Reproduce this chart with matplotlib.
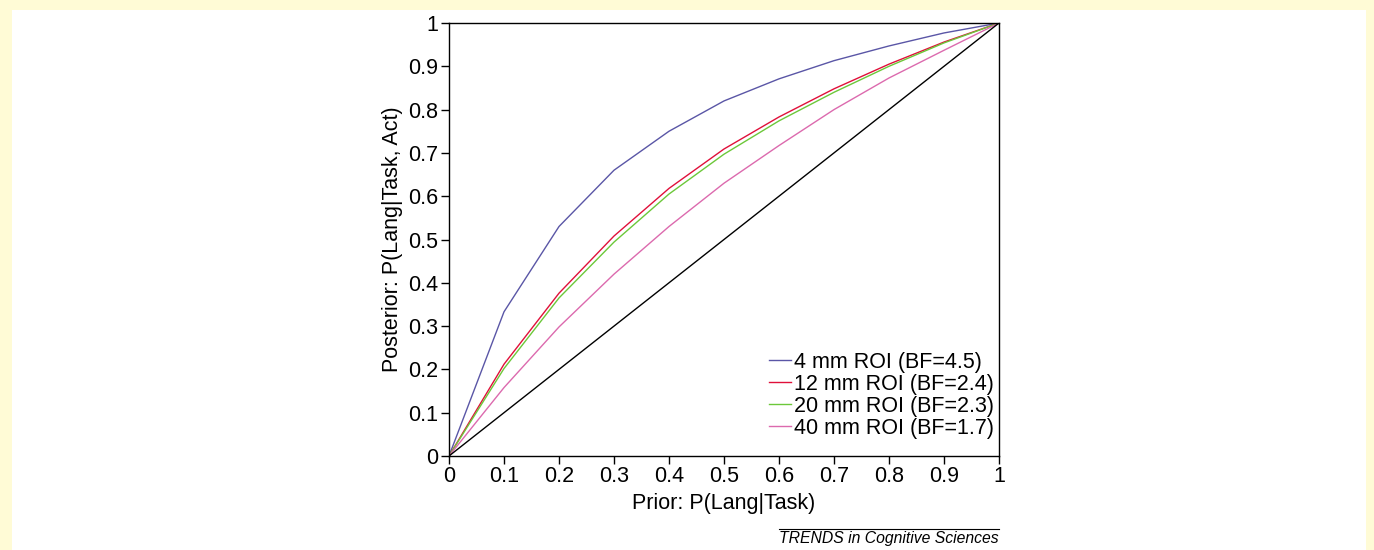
import matplotlib
matplotlib.use("Agg")
import matplotlib.pyplot as plt
from matplotlib.patches import Rectangle
from matplotlib.lines import Line2D

plt.rcParams['font.family'] = ['Liberation Sans', 'DejaVu Sans']

prior = [0, 0.1, 0.2, 0.3, 0.4, 0.5, 0.6, 0.7, 0.8, 0.9, 1.0]
roi_4mm = [0, 0.333, 0.530, 0.660, 0.750, 0.820, 0.871, 0.913, 0.947, 0.977, 1.0]
roi_12mm = [0, 0.212, 0.376, 0.508, 0.618, 0.709, 0.783, 0.848, 0.905, 0.956, 1.0]
roi_20mm = [0, 0.202, 0.365, 0.494, 0.605, 0.697, 0.774, 0.840, 0.900, 0.954, 1.0]
roi_40mm = [0, 0.158, 0.298, 0.420, 0.530, 0.630, 0.717, 0.800, 0.873, 0.937, 1.0]
labels = ['4 mm ROI (BF=4.5)', '12 mm ROI (BF=2.4)', '20 mm ROI (BF=2.3)', '40 mm ROI (BF=1.7)']
colors = ['#5a56a6', '#e0103a', '#6cc83a', '#dc6aae']
ticks = [0, 0.1, 0.2, 0.3, 0.4, 0.5, 0.6, 0.7, 0.8, 0.9, 1]
tick_labels = ['0', '0.1', '0.2', '0.3', '0.4', '0.5', '0.6', '0.7', '0.8', '0.9', '1']

W, H = 1374, 550
FS = 15.5
fig = plt.figure(figsize=(W / 100, H / 100), dpi=100)
fig.patch.set_facecolor('#fffbd6')
fig.patches.append(Rectangle((12 / W, 0), (1366 - 12) / W, (550 - 10) / H,
                             transform=fig.transFigure, facecolor='white',
                             edgecolor='none', zorder=-5))

ax = fig.add_axes([449 / W, (H - 456) / H, (999 - 449) / W, (456 - 23) / H])
ax.set_zorder(5)
ax.set_facecolor('white')
for s, c, l in zip([roi_4mm, roi_12mm, roi_20mm, roi_40mm], colors, labels):
    ax.plot(prior, s, color=c, lw=1.0, label=l)
ax.plot(prior, prior, color='black', lw=1.0)

ax.set_xlim(0, 1)
ax.set_ylim(0, 1)
ax.set_xticks(ticks)
ax.set_xticklabels(tick_labels)
ax.set_yticks(ticks)
ax.set_yticklabels(tick_labels)
ax.tick_params(direction='out', length=5.5, width=1, labelsize=FS, pad=2)
for sp in ax.spines.values():
    sp.set_linewidth(1.0)
ax.set_xlabel('Prior: P(Lang|Task)', fontsize=FS, labelpad=4)
ax.set_ylabel('Posterior: P(Lang|Task, Act)', fontsize=FS, labelpad=4)

ax.legend(loc='lower right', bbox_to_anchor=(1.0145, 0.01), frameon=False, fontsize=FS,
          handlelength=1.0, handletextpad=0.15, labelspacing=0.05, borderaxespad=0.2)

fig.add_artist(Line2D([779 / W, 999 / W], [(H - 529) / H, (H - 529) / H],
                      transform=fig.transFigure, color='black', lw=0.8))
fig.text(779 / W, (H - 539) / H, 'TRENDS in Cognitive Sciences', fontsize=11.3,
         style='italic', ha='left', va='center')

fig.savefig('out.png', dpi=100, facecolor=fig.get_facecolor())
